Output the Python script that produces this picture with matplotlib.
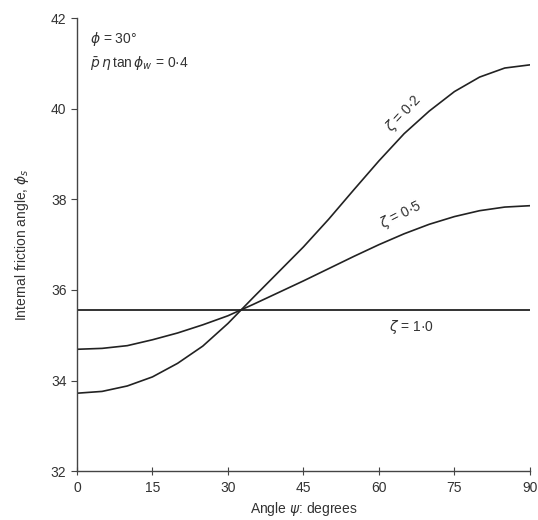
import numpy as np
import matplotlib; matplotlib.use("Agg")
import matplotlib.pyplot as plt

plt.rcParams["font.family"] = ["Liberation Sans", "DejaVu Sans"]
plt.rcParams["mathtext.fontset"] = "dejavusans"

# angle psi (degrees) and internal friction angle for each zeta
psi = [0, 5, 10, 15, 20, 25, 30, 35, 40, 45, 50, 55, 60, 65, 70, 75, 80, 85, 90]
phi_z02 = [33.72, 33.76, 33.88, 34.08, 34.38, 34.76, 35.26, 35.83, 36.39, 36.95,
           37.56, 38.21, 38.85, 39.45, 39.95, 40.38, 40.70, 40.90, 40.97]
phi_z05 = [34.69, 34.71, 34.77, 34.90, 35.05, 35.23, 35.43, 35.68, 35.94, 36.20,
           36.47, 36.74, 37.00, 37.24, 37.45, 37.62, 37.75, 37.83, 37.86]
phi_z10 = [35.55] * len(psi)
xticks = [0, 15, 30, 45, 60, 75, 90]
yticks = [32, 34, 36, 38, 40, 42]

LC = "#222222"; TC = "#333333"
fig = plt.figure(figsize=(5.38, 5.20), dpi=100)
ax = fig.add_axes([0.143, 0.094, 0.842, 0.871])

ax.plot(psi, phi_z02, color=LC, lw=1.2)
ax.plot(psi, phi_z05, color=LC, lw=1.2)
ax.plot(psi, phi_z10, color=LC, lw=1.3)

ax.set_xlim(0, 90); ax.set_ylim(32, 42)
ax.set_xticks(xticks); ax.set_yticks(yticks)
for s in ("top", "right"): ax.spines[s].set_visible(False)
for s in ("left", "bottom"): ax.spines[s].set_color("#444444"); ax.spines[s].set_linewidth(1.0)
ax.tick_params(axis="y", direction="out", length=4, colors="#444444", labelcolor=TC, labelsize=10)
ax.tick_params(axis="x", direction="inout", length=6, colors="#444444", labelcolor=TC, labelsize=10, pad=4)

ax.set_xlabel(r"Angle $\psi$: degrees", fontsize=10, color=TC, labelpad=4)
ax.set_ylabel(r"Internal friction angle, $\phi_s$", fontsize=10, color=TC, labelpad=14)

ax.text(2.6, 41.55, r"$\phi$ = 30°", fontsize=10, color=TC, va="center")
ax.text(2.6, 41.0, r"$\bar{p}\,\eta\,$tan$\,\phi_w$ = 0·4", fontsize=10, color=TC, va="center")

ax.text(65.0, 39.9, r"$\zeta$ = 0·2", fontsize=10, color=TC, rotation=47, ha="center", va="center")
ax.text(64.3, 37.65, r"$\zeta$ = 0·5", fontsize=10, color=TC, rotation=27, ha="center", va="center")
ax.text(66.5, 35.18, r"$\zeta$ = 1·0", fontsize=10, color=TC, ha="center", va="center")

fig.savefig("out.png", dpi=100)
